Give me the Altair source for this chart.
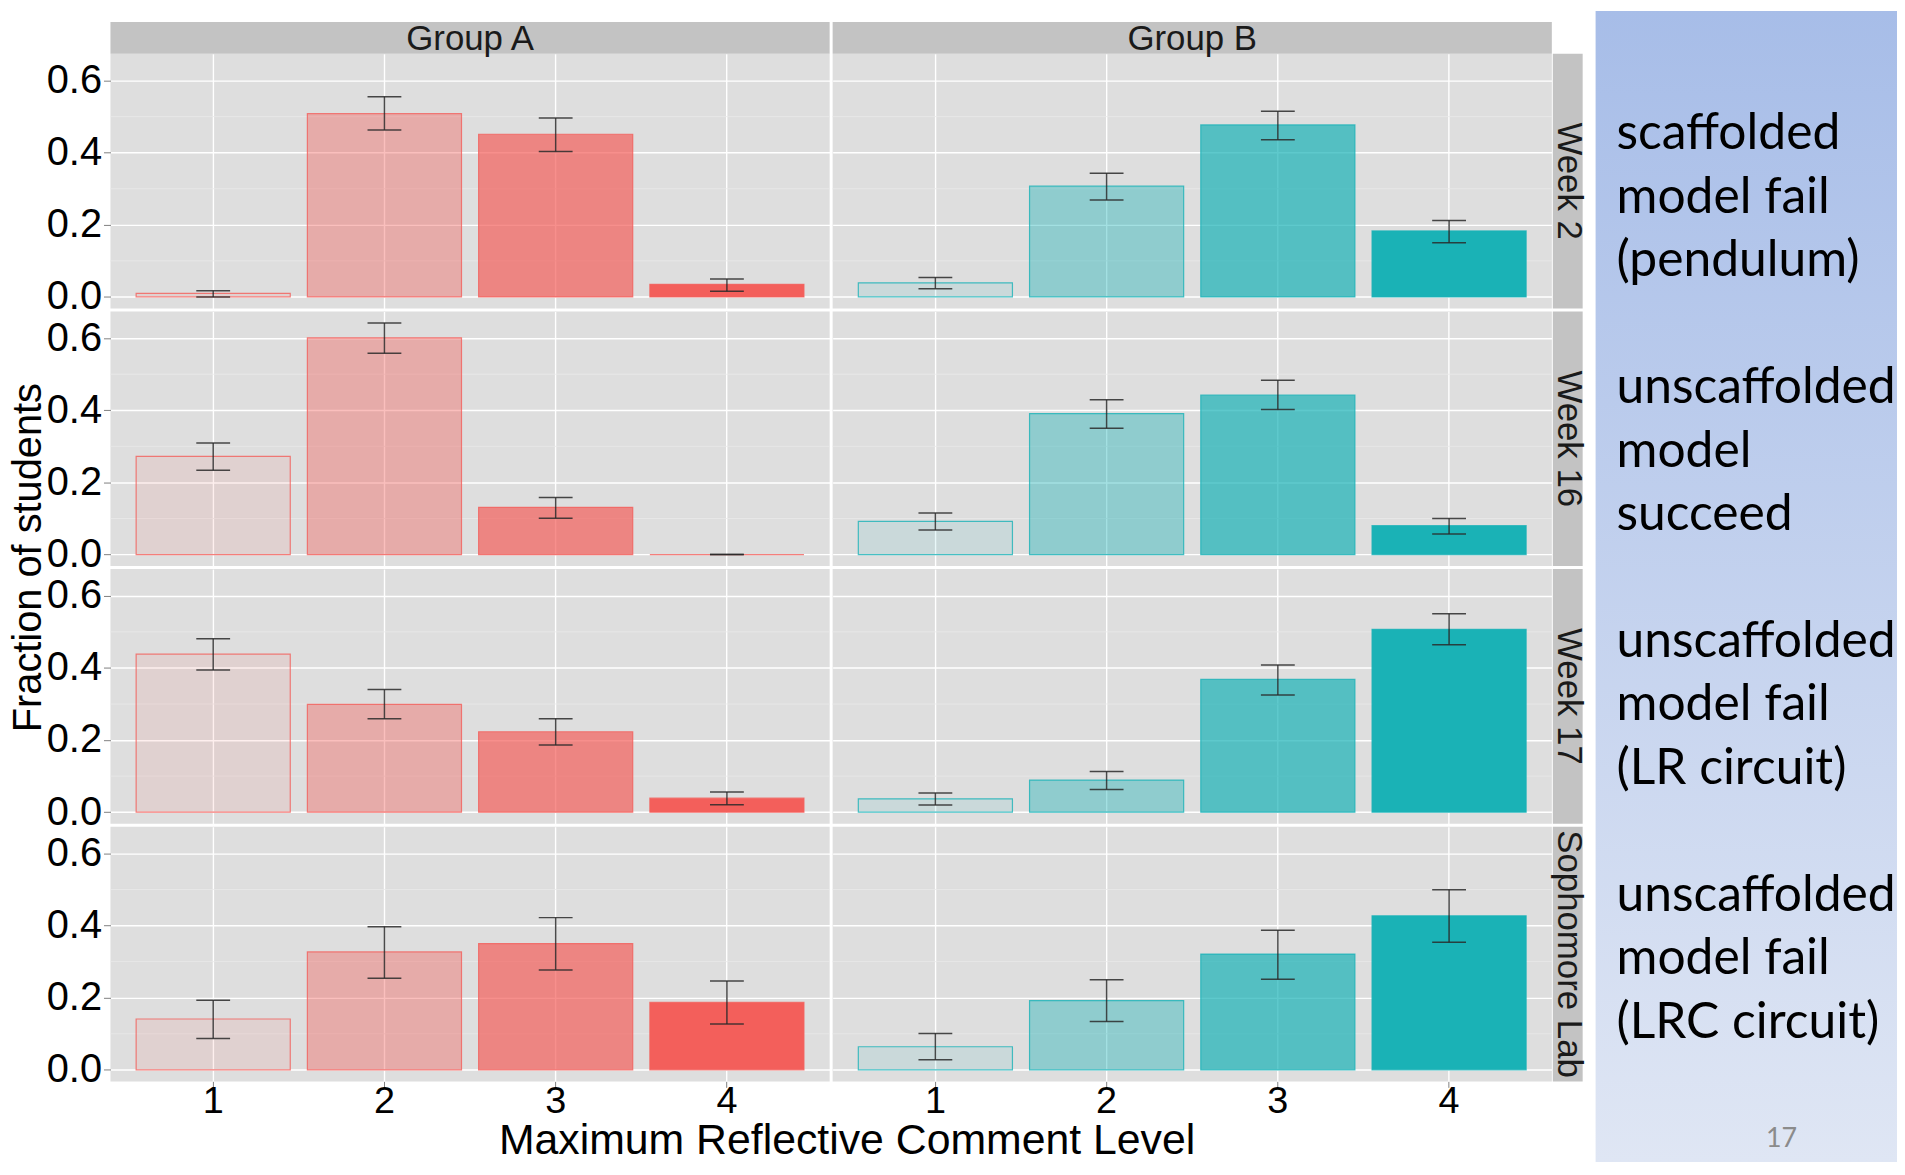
import altair as alt
import pandas as pd

weeks = ["Week 2", "Week 16", "Week 17", "Sophomore Lab"]
groups = ["Group A", "Group B"]
levels = [1, 2, 3, 4]

# ---- Group A: fraction of students per reflective level, with error bar ends
a_week2_mean = [0.010, 0.508, 0.451, 0.035]
a_week2_low = [0.000, 0.463, 0.403, 0.016]
a_week2_high = [0.017, 0.555, 0.496, 0.050]

a_week16_mean = [0.272, 0.601, 0.131, 0.000]
a_week16_low = [0.234, 0.558, 0.101, 0.000]
a_week16_high = [0.309, 0.642, 0.158, 0.000]

a_week17_mean = [0.438, 0.299, 0.223, 0.039]
a_week17_low = [0.394, 0.259, 0.186, 0.021]
a_week17_high = [0.481, 0.340, 0.259, 0.056]

a_soph_mean = [0.141, 0.327, 0.350, 0.187]
a_soph_low = [0.087, 0.254, 0.277, 0.127]
a_soph_high = [0.193, 0.397, 0.422, 0.246]

# ---- Group B
b_week2_mean = [0.039, 0.307, 0.477, 0.183]
b_week2_low = [0.023, 0.269, 0.436, 0.150]
b_week2_high = [0.054, 0.343, 0.515, 0.212]

b_week16_mean = [0.092, 0.391, 0.442, 0.080]
b_week16_low = [0.068, 0.350, 0.402, 0.057]
b_week16_high = [0.115, 0.429, 0.483, 0.100]

b_week17_mean = [0.037, 0.089, 0.368, 0.507]
b_week17_low = [0.020, 0.063, 0.325, 0.464]
b_week17_high = [0.053, 0.113, 0.408, 0.550]

b_soph_mean = [0.064, 0.192, 0.321, 0.427]
b_soph_low = [0.028, 0.134, 0.251, 0.354]
b_soph_high = [0.101, 0.250, 0.387, 0.499]

y_ticks = [0.0, 0.2, 0.4, 0.6]
y_minor = [0.1, 0.3, 0.5]
y_domain = [-0.032, 0.674]

annot_lines = [
    "scaffolded", "model fail", "(pendulum)", "",
    "unscaffolded", "model", "succeed", "",
    "unscaffolded", "model fail", "(LR circuit)", "",
    "unscaffolded", "model fail", "(LRC circuit)",
]
page_number = ["17"]

group_colors = ["#f35f5b", "#1ab2b6"]
level_alpha = [0.1, 0.4, 0.7, 1.0]

FONT = "Liberation Sans"
PANEL_BG = "#dedede"
STRIP_BG = "#c3c3c3"
W, H = 723, 256
GAP = 3

series = {
    ("Week 2", "Group A"): (a_week2_mean, a_week2_low, a_week2_high),
    ("Week 16", "Group A"): (a_week16_mean, a_week16_low, a_week16_high),
    ("Week 17", "Group A"): (a_week17_mean, a_week17_low, a_week17_high),
    ("Sophomore Lab", "Group A"): (a_soph_mean, a_soph_low, a_soph_high),
    ("Week 2", "Group B"): (b_week2_mean, b_week2_low, b_week2_high),
    ("Week 16", "Group B"): (b_week16_mean, b_week16_low, b_week16_high),
    ("Week 17", "Group B"): (b_week17_mean, b_week17_low, b_week17_high),
    ("Sophomore Lab", "Group B"): (b_soph_mean, b_soph_low, b_soph_high),
}

yscale = alt.Scale(domain=y_domain, nice=False, zero=False)
xscale = alt.Scale(domain=levels, paddingInner=0.1, paddingOuter=0.15)
fill_scale = alt.Scale(domain=groups, range=group_colors)
alpha_scale = alt.Scale(type="ordinal", domain=levels, range=level_alpha)


def make_panel(r, week, g, group):
    mean, low, high = series[(week, group)]
    df = pd.DataFrame({"level": levels, "mean": mean, "low": low, "high": high,
                       "group": [group] * 4})
    left = g == 0
    bottom = r == len(weeks) - 1

    ykw = dict(values=y_ticks, format=".1f", labels=left, ticks=left, domain=False,
               grid=True, gridColor="white", gridWidth=1.4,
               labelFont=FONT, labelFontSize=40, labelColor="black", labelPadding=2,
               tickSize=7, tickColor="#808080", tickWidth=1)
    if left and r == 1:
        ykw.update(title="Fraction of students", titleX=-70, titleY=247, titleAngle=270,
                   titleAlign="center", titleBaseline="alphabetic", titleFont=FONT,
                   titleFontSize=40, titleFontWeight="normal", titleColor="black")
    else:
        ykw.update(title=None)
    yaxis = alt.Axis(**ykw)

    xkw = dict(labels=bottom, ticks=bottom, domain=False, grid=True, gridColor="white",
               gridWidth=1.4, bandPosition=0.5, labelAngle=0, labelFont=FONT,
               labelFontSize=38, labelColor="black", labelPadding=-5, tickSize=6,
               tickColor="#808080", tickWidth=1)
    if left and bottom:
        xkw.update(title="Maximum Reflective Comment Level", titleX=740, titleY=73,
                   titleAlign="center", titleBaseline="alphabetic", titleFont=FONT,
                   titleFontSize=43, titleFontWeight="normal", titleColor="black")
    else:
        xkw.update(title=None)
    xaxis = alt.Axis(**xkw)

    X = alt.X("level:O", scale=xscale, axis=xaxis)
    base = alt.Chart(df)

    minor = alt.Chart(pd.DataFrame({"v": y_minor})).mark_rule(
        color="#e9e9e9", strokeWidth=0.8).encode(
        y=alt.Y("v:Q", scale=yscale, axis=yaxis))
    bars = base.mark_bar(opacity=1, strokeWidth=1.2, strokeOpacity=0.8).encode(
        x=X,
        y=alt.Y("mean:Q", scale=yscale, axis=yaxis),
        fill=alt.Fill("group:N", scale=fill_scale, legend=None),
        stroke=alt.Stroke("group:N", scale=fill_scale, legend=None),
        fillOpacity=alt.FillOpacity("level:O", scale=alpha_scale, legend=None),
    )
    err = base.mark_rule(color="#2a2a2a", strokeWidth=1.5, opacity=0.85).encode(
        x=X, y=alt.Y("low:Q", scale=yscale, axis=yaxis), y2="high:Q")
    cap_lo = base.mark_tick(color="#2a2a2a", thickness=1.5, size=34, opacity=0.85).encode(
        x=X, y=alt.Y("low:Q", scale=yscale, axis=yaxis))
    cap_hi = base.mark_tick(color="#2a2a2a", thickness=1.5, size=34, opacity=0.85).encode(
        x=X, y=alt.Y("high:Q", scale=yscale, axis=yaxis))

    layers = [minor, bars, err, cap_lo, cap_hi]

    if r == 0:
        sd = pd.DataFrame({"t": [group]})
        layers.append(alt.Chart(sd).mark_rect(color=STRIP_BG).encode(
            x=alt.value(0), x2=alt.value(W), y=alt.value(-32), y2=alt.value(0)))
        layers.append(alt.Chart(sd).mark_text(
            font=FONT, fontSize=35, color="#1a1a1a", align="center", baseline="middle"
        ).encode(x=alt.value(W / 2), y=alt.value(-15), text="t:N"))
        if left:
            # invisible anchor fixing the left page margin of the figure
            layers.append(alt.Chart(sd).mark_rect(opacity=0).encode(
                x=alt.value(-99), x2=alt.value(-98), y=alt.value(0), y2=alt.value(1)))
    if g == 1:
        sd = pd.DataFrame({"t": [week]})
        layers.append(alt.Chart(sd).mark_rect(color=STRIP_BG).encode(
            x=alt.value(W + 1), x2=alt.value(W + 31), y=alt.value(0), y2=alt.value(H)))
        layers.append(alt.Chart(sd).mark_text(
            font=FONT, fontSize=35, color="#1a1a1a", align="center", baseline="middle",
            angle=90
        ).encode(x=alt.value(W + 17), y=alt.value(H / 2), text="t:N"))

    return alt.layer(*layers).properties(
        width=W, height=H, view=alt.ViewBackground(fill=PANEL_BG, strokeWidth=0))


# ---- right-hand slide annotation (third grid column, overflowing its cell)
OFF = 41            # blue area starts this far right of the third column
AW, AH = 303, 1114
ann_df = pd.DataFrame({"idx": list(range(len(annot_lines))), "label": annot_lines})
bg = alt.Chart(pd.DataFrame({"k": [0]})).mark_rect(
    fill=alt.LinearGradient(
        gradient="linear",
        stops=[alt.GradientStop(color="#a7bde8", offset=0),
               alt.GradientStop(color="#dfe6f4", offset=1)],
        x1=0, x2=0, y1=0, y2=1)
).encode(x=alt.value(OFF), x2=alt.value(OFF + AW), y=alt.value(-43), y2=alt.value(AH))
txt = alt.Chart(ann_df).mark_text(
    align="left", baseline="alphabetic", font="Lato", fontSize=50, color="black"
).encode(
    x=alt.value(OFF + 21),
    y=alt.Y("idx:O", scale=alt.Scale(type="point", range=[96, 989], padding=0), axis=None),
    text="label:N",
)
num = alt.Chart(pd.DataFrame({"p": page_number})).mark_text(
    align="center", baseline="alphabetic", font="Lato", fontSize=27, color="#8b8b8b"
).encode(x=alt.value(OFF + 187), y=alt.value(1099), text="p:N")
annot = alt.layer(bg, txt, num).properties(width=OFF + 297, height=H)


def placeholder():
    return alt.Chart(pd.DataFrame({"k": [0]})).mark_point(opacity=0).encode(
        x=alt.value(0), y=alt.value(0)).properties(width=OFF + 297, height=H)


cells = []
for r, week in enumerate(weeks):
    for g, grp in enumerate(groups):
        cells.append(make_panel(r, week, g, grp))
    cells.append(annot if r == 0 else placeholder())

chart = alt.concat(*cells, columns=3, spacing=GAP, bounds="flush", padding=0).configure_view(
    strokeWidth=0)

chart.save("out.html", embed_options={"renderer": "svg", "actions": False})
